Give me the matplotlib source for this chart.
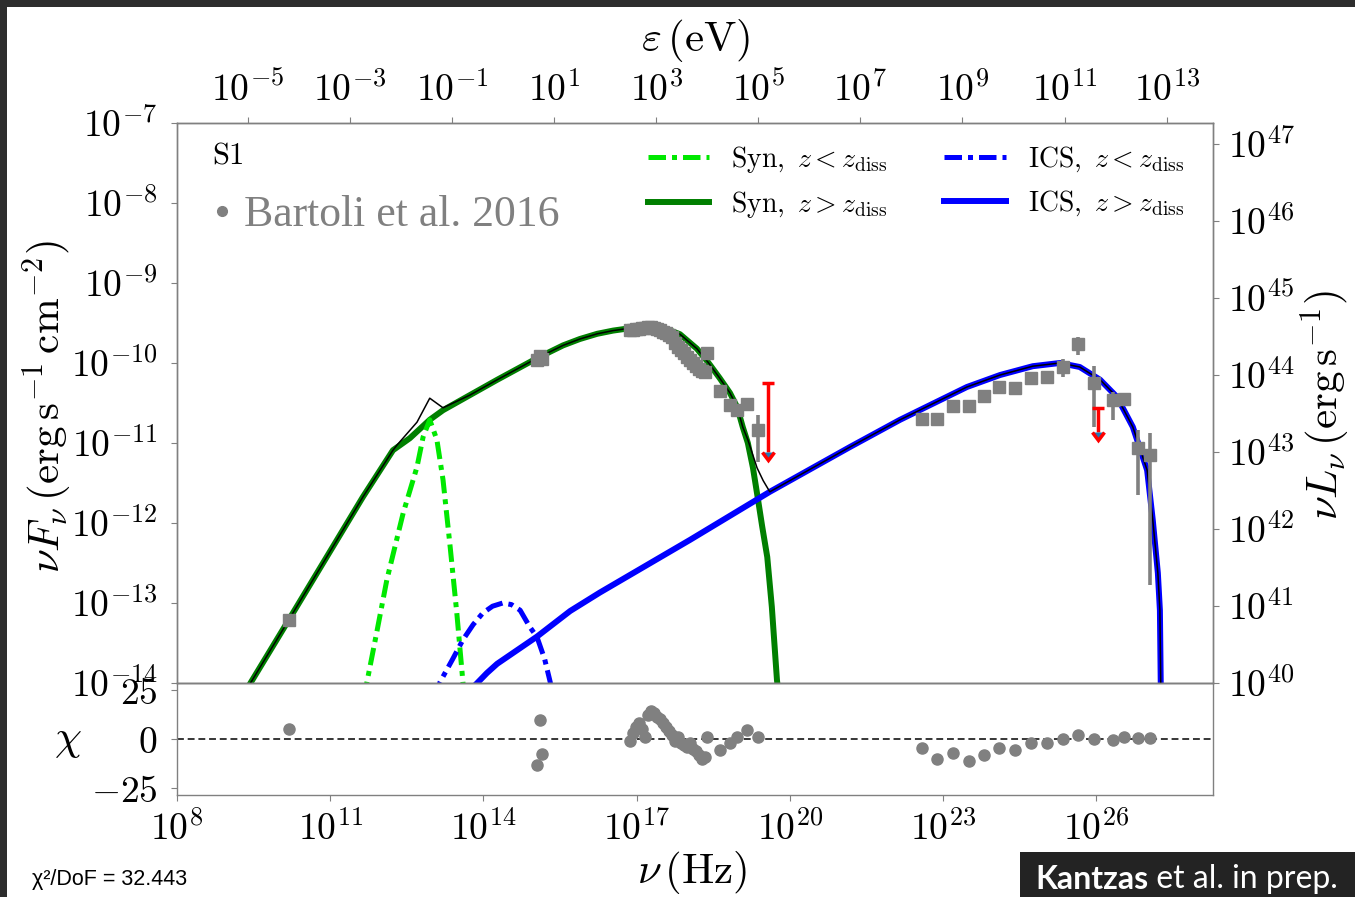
import numpy as np
import matplotlib
matplotlib.use("Agg")
import matplotlib.pyplot as plt
from matplotlib.lines import Line2D
from matplotlib.patches import Rectangle
from matplotlib.ticker import FixedLocator, FuncFormatter, NullLocator

plt.rcParams["mathtext.fontset"] = "cm"
plt.rcParams["font.family"] = ["DejaVu Serif"]

# ---------------- model curves: log10(nu / Hz), log10(nuFnu / erg s^-1 cm^-2)
syn_out_lognu = [9.25, 10.19, 11.64, 12.23, 12.56, 12.95, 13.21, 13.74, 14.27, 15.05, 15.56,
                 15.89, 16.23, 16.54, 16.87, 17.17, 17.52, 17.85, 18.18, 18.40, 18.63, 18.83,
                 18.97, 19.08, 19.18, 19.28, 19.38, 19.46, 19.56, 19.65, 19.75, 19.79]
syn_out_logflux = [-14.2, -13.21, -11.675, -11.09, -10.94, -10.71, -10.59, -10.40, -10.21, -9.94,
                   -9.78, -9.70, -9.635, -9.595, -9.565, -9.55, -9.56, -9.64, -9.82, -9.99,
                   -10.19, -10.375, -10.55, -10.80, -11.00, -11.31, -11.71, -12.04, -12.425,
                   -13.05, -13.96, -14.2]

syn_in_lognu = [11.66, 11.72, 11.92, 12.11, 12.43, 12.70, 12.82, 12.95, 13.09, 13.21, 13.35,
                13.48, 13.60, 13.62]
syn_in_logflux = [-14.2, -13.99, -13.34, -12.71, -11.875, -11.30, -10.925, -10.71, -10.96,
                  -11.46, -12.30, -13.125, -13.99, -14.2]

ics_in_lognu = [13.09, 13.15, 13.40, 13.60, 13.80, 13.99, 14.18, 14.38, 14.55, 14.72, 14.91,
                15.05, 15.20, 15.31, 15.34]
ics_in_logflux = [-14.2, -13.99, -13.70, -13.46, -13.27, -13.125, -13.04, -13.0, -13.02, -13.09,
                  -13.30, -13.425, -13.70, -13.99, -14.2]

ics_out_lognu = [13.68, 13.88, 14.07, 14.27, 14.66, 15.05, 15.70, 16.28, 18.05, 19.61, 21.18,
                 22.16, 23.47, 24.12, 24.76, 25.29, 25.68, 26.08, 26.41, 26.72, 27.00, 27.11,
                 27.21, 27.25, 27.27]
ics_out_logflux = [-14.13, -14.0, -13.875, -13.76, -13.59, -13.42, -13.10, -12.87, -12.21,
                   -11.61, -11.05, -10.71, -10.30, -10.15, -10.04, -10.0, -10.05, -10.21,
                   -10.425, -10.80, -11.34, -11.96, -12.625, -13.09, -14.2]

total_lognu = [9.25, 10.19, 11.64, 12.23, 12.31, 12.70, 12.95, 13.21, 13.74, 14.27, 15.05, 15.56,
               15.89, 16.23, 16.54, 16.87, 17.17, 17.52, 17.85, 18.18, 18.40, 18.63, 18.83,
               18.97, 19.08, 19.18, 19.36, 19.48, 19.61, 21.18, 22.16, 23.47, 24.12, 24.76,
               25.29, 25.68, 26.08, 26.41, 26.72, 27.00, 27.11, 27.21, 27.25, 27.27]
total_logflux = [-14.2, -13.21, -11.675, -11.09, -11.025, -10.74, -10.44, -10.56, -10.40, -10.21,
                 -9.94, -9.78, -9.70, -9.635, -9.595, -9.565, -9.55, -9.56, -9.64, -9.82, -9.99,
                 -10.19, -10.375, -10.55, -10.80, -10.96, -11.31, -11.47, -11.61, -11.05,
                 -10.71, -10.30, -10.15, -10.04, -10.0, -10.05, -10.21, -10.425, -10.80,
                 -11.34, -11.96, -12.625, -13.09, -14.2]

# ---------------- data points (Bartoli et al. 2016)
data_lognu = [10.19,
              15.11, 15.15, 15.05,
              16.87, 16.93, 16.99, 17.05, 17.11, 17.17, 17.22, 17.28, 17.34, 17.40, 17.46, 17.52,
              17.58, 17.64, 17.69, 17.75, 17.81, 17.87, 17.93, 17.99, 18.05, 18.11, 18.16, 18.22,
              18.28, 18.34, 18.38,
              18.63, 18.83, 18.97, 19.16, 19.38,
              22.59, 22.88, 23.20, 23.51, 23.80, 24.10, 24.41, 24.73, 25.04, 25.35, 25.65, 25.96,
              26.33, 26.55, 26.82, 27.06]
data_logflux = [-13.21,
                -9.915, -9.955, -9.965,
                -9.59, -9.59, -9.58, -9.58, -9.56, -9.56, -9.55, -9.55, -9.56, -9.58, -9.59, -9.61,
                -9.62, -9.65, -9.68, -9.75, -9.80, -9.84, -9.875, -9.925, -9.96, -10.0, -10.04,
                -10.075, -10.10, -10.11, -9.87,
                -10.35, -10.525, -10.59, -10.51, -10.84,
                -10.70, -10.70, -10.54, -10.54, -10.41, -10.30, -10.31, -10.19, -10.175, -10.05,
                -9.76, -10.25, -10.46, -10.45, -11.06, -11.15]
data_logflux_lo = list(data_logflux)
data_logflux_hi = list(data_logflux)
err_index = [35, 44, 45, 46, 47, 48, 49, 50, 51]
err_lo_vals = [-11.24, -10.25, -10.175, -9.90, -10.80, -10.71, -10.525, -11.65, -12.775]
err_hi_vals = [-10.65, -10.11, -9.95, -9.675, -10.04, -10.36, -10.375, -10.84, -10.875]
for i, lo, hi in zip(err_index, err_lo_vals, err_hi_vals):
    data_logflux_lo[i] = lo
    data_logflux_hi[i] = hi

data_chi = [5.1,
            9.7, -7.6, -13.3,
            -1, 3, 6, 8, 5, 1, 12, 14, 13, 11, 10, 8, 6, 4, 2, -1, 1, -2, -3, -4, -2, -5, -6, -8,
            -10, -9, 1,
            -5.6, -2.0, 1.0, 4.6, 1.0,
            -4.6, -10.2, -7.1, -11.2, -8.2, -4.6, -5.6, -2.0, -2.0, 0.0, 2.0, 0.0, -0.5, 1.0,
            0.5, 0.5]

# upper limits
ul_lognu = [19.57, 26.04]
ul_logtop = [-10.25, -10.56]
ul_logbottom = [-11.11, -10.86]

# axis ticks / ranges
nu_tick_exp = [8, 11, 14, 17, 20, 23, 26]
flux_tick_exp = list(range(-14, -6))
ev_tick_exp = list(range(-5, 14, 2))
lum_tick_exp = list(range(40, 48))
lum_range_exp = [40.0, 47.27]
chi_ticks = [-25, 0, 25]

H_EV = 4.135667e-15      # eV s

legend_labels = [r"$\mathrm{Syn},\ z<z_\mathrm{diss}$", r"$\mathrm{Syn},\ z>z_\mathrm{diss}$",
                 r"$\mathrm{ICS},\ z<z_\mathrm{diss}$", r"$\mathrm{ICS},\ z>z_\mathrm{diss}$"]


def pw(a):
    return 10.0 ** np.asarray(a, dtype=float)


W, H = 1355, 897
fig = plt.figure(figsize=(W / 100, H / 100), dpi=100)
fig.patch.set_facecolor("#2d2d2d")
fig.add_artist(Rectangle((7 / W, 0), 1 - 7 / W, 1 - 7 / H, transform=fig.transFigure,
                         facecolor="white", edgecolor="none", zorder=-10))

ax = fig.add_axes([177 / W, 1 - 683 / H, (1213 - 177) / W, (683 - 123) / H])
axr = fig.add_axes([177 / W, 1 - 795 / H, (1213 - 177) / W, (795 - 683) / H], sharex=ax)
axy = ax.twinx()
for a in (ax, axr, axy):
    a.set_facecolor("none")
    for sp in a.spines.values():
        sp.set_color("#808080")
        sp.set_linewidth(1.0)

ax.set_xscale("log")
ax.set_yscale("log")
ax.set_xlim(1e8, 10 ** 28.29)
ax.set_ylim(1e-14, 1e-7)

GREEN_D = "#007f00"
LIME = "#00e800"
BLUE = "#0000ff"
DD = (0, (3.5, 1.2, 1.0, 1.2))

ax.plot(pw(syn_out_lognu), pw(syn_out_logflux), color=GREEN_D, lw=4.3, zorder=2)
ax.plot(pw(syn_in_lognu), pw(syn_in_logflux), color=LIME, lw=3.6, ls=DD, zorder=2)
ax.plot(pw(ics_in_lognu), pw(ics_in_logflux), color=BLUE, lw=3.6, ls=DD, zorder=2)
ax.plot(pw(ics_out_lognu), pw(ics_out_logflux), color=BLUE, lw=4.3, zorder=2)
ax.plot(pw(total_lognu), pw(total_logflux), color="black", lw=1.1, zorder=3)

x = pw(data_lognu)
y = pw(data_logflux)
ylo = y - pw(data_logflux_lo)
yhi = pw(data_logflux_hi) - y
ax.errorbar(x, y, yerr=[ylo, yhi], fmt="s", ms=8.5, color="#808080", ecolor="#808080",
            elinewidth=2.6, capsize=0, zorder=4)

ul_x = pw(ul_lognu)
ul_top = pw(ul_logtop)
ul_bot = pw(ul_logbottom)
ax.errorbar(ul_x, ul_top, yerr=ul_top - ul_bot, uplims=True, fmt="none", ecolor="red",
            elinewidth=2.5, capsize=4, capthick=2.5, zorder=5)

axr.plot(x, data_chi, "o", color="#808080", ms=8, zorder=3)
axr.axhline(0, color="black", lw=1.1, ls=(0, (4.5, 2.5)), zorder=2)
axr.set_ylim(-28.5, 28.5)

pow_fmt = FuncFormatter(lambda v, p: r"$10^{%d}$" % int(round(np.log10(v))))

TICK_KW = dict(direction="out", length=4, width=0.8, color="#808080", labelsize=27)

ax.xaxis.set_major_locator(FixedLocator(pw(nu_tick_exp)))
ax.xaxis.set_minor_locator(NullLocator())
ax.xaxis.set_major_formatter(pow_fmt)
ax.yaxis.set_major_locator(FixedLocator(pw(flux_tick_exp)))
ax.yaxis.set_minor_locator(NullLocator())
ax.yaxis.set_major_formatter(pow_fmt)
ax.tick_params(axis="x", which="both", bottom=False, labelbottom=False)
ax.tick_params(axis="y", pad=10, **TICK_KW)

axr.tick_params(axis="x", pad=8, **TICK_KW)
axr.tick_params(axis="y", pad=10, **TICK_KW)
axr.yaxis.set_major_locator(FixedLocator(chi_ticks))
axr.yaxis.set_major_formatter(FuncFormatter(lambda v, p: r"$%d$" % int(round(v))))

secx = ax.secondary_xaxis("top", functions=(lambda nu: nu * H_EV, lambda e: e / H_EV))
secx.xaxis.set_major_locator(FixedLocator(pw(ev_tick_exp)))
secx.xaxis.set_minor_locator(NullLocator())
secx.xaxis.set_major_formatter(pow_fmt)
secx.tick_params(axis="x", pad=6, **TICK_KW)
secx.spines["top"].set_color("#808080")

axy.set_yscale("log")
axy.set_ylim(pw(lum_range_exp))
axy.yaxis.set_major_locator(FixedLocator(pw(lum_tick_exp)))
axy.yaxis.set_minor_locator(NullLocator())
axy.yaxis.set_major_formatter(pow_fmt)
axy.tick_params(axis="y", pad=7, **TICK_KW)
axy.tick_params(axis="x", which="both", top=False, bottom=False, labeltop=False, labelbottom=False)

# axis labels
LAB = 31
fig.text(48 / W, 1 - 407 / H, r"$\nu F_\nu\,(\mathrm{erg\,s^{-1}\,cm^{-2}})$", fontsize=LAB,
         rotation=90, ha="center", va="center")
fig.text(1326 / W, 1 - 405 / H, r"$\nu L_\nu\,(\mathrm{erg\,s^{-1}})$", fontsize=LAB,
         rotation=90, ha="center", va="center")
fig.text(695 / W, 1 - 40 / H, r"$\varepsilon\,(\mathrm{eV})$", fontsize=LAB, ha="center", va="center")
fig.text(692 / W, 1 - 872 / H, r"$\nu\,(\mathrm{Hz})$", fontsize=LAB, ha="center", va="center")
fig.text(68 / W, 1 - 739 / H, r"$\chi$", fontsize=LAB, ha="center", va="center")

ax.text(0.034, 0.97, r"$\mathrm{S1}$", transform=ax.transAxes, ha="left", va="top", fontsize=22)

handles = [Line2D([], [], color=LIME, lw=3.6, ls=DD),
           Line2D([], [], color=GREEN_D, lw=4.3),
           Line2D([], [], color=BLUE, lw=3.6, ls=DD),
           Line2D([], [], color=BLUE, lw=4.3)]
leg = ax.legend(handles, legend_labels, ncol=2, loc="upper left",
                bbox_to_anchor=((648 - 177) / 1036, 1 - (144 - 123) / 560),
                frameon=False, fontsize=20, handlelength=2.2, handletextpad=0.8,
                columnspacing=2.05, labelspacing=0.5, borderpad=0, borderaxespad=0)
ax.add_artist(leg)

leg2 = ax.legend([Line2D([], [], ls="none", marker="o", ms=7, color="#808080")],
                 ["Bartoli et al. 2016"], loc="upper left",
                 bbox_to_anchor=((209 - 177) / 1036, 1 - (195 - 123) / 560),
                 frameon=False, prop={"family": "Liberation Serif", "size": 31.5},
                 labelcolor="#808080", handlelength=0.6, handletextpad=0.2,
                 borderpad=0, borderaxespad=0)

# footer texts
fig.text(32 / W, 1 - 879 / H, "χ²/DoF = 32.443", family="Liberation Sans", fontsize=15.5,
         ha="left", va="center")
fig.add_artist(Rectangle((1020 / W, 0), (W - 1020) / W, (897 - 852) / H, transform=fig.transFigure,
                         facecolor="#232323", edgecolor="none", zorder=5))
t1 = fig.text(1035 / W, 1 - 879 / H, "Kantzas", family="Lato", weight="bold", fontsize=23,
              color="white", ha="left", va="center", zorder=6)
fig.canvas.draw()
bb = t1.get_window_extent()
fig.text(bb.x1 / W, 1 - 879 / H, " et al. in prep.", family="Lato", fontsize=23,
         color="white", ha="left", va="center", zorder=6)

fig.savefig("out.png", dpi=100, facecolor=fig.get_facecolor())
